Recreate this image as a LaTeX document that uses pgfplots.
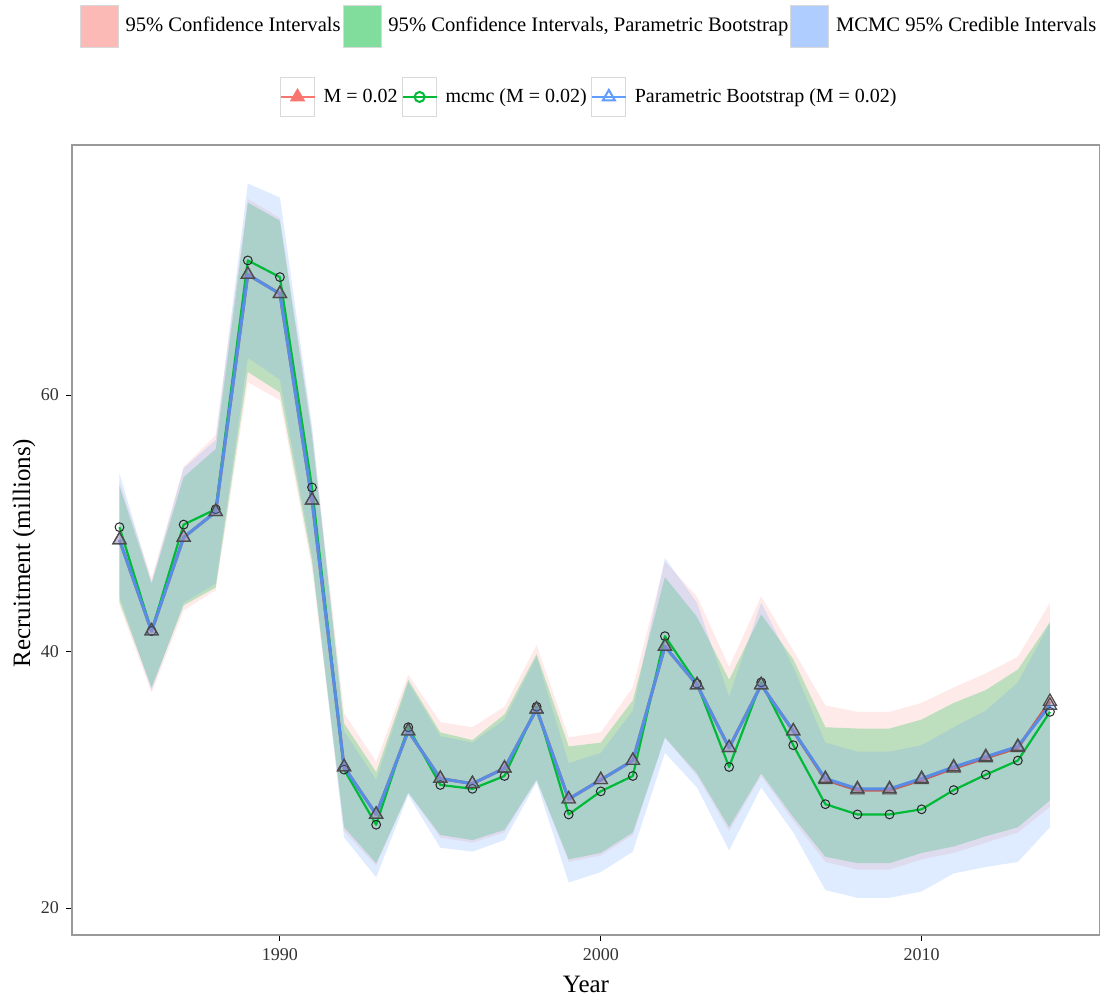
\documentclass[border=0pt]{standalone}
\usepackage{fontspec}
\setmainfont{Liberation Serif}
\usepackage{pgfplots}
\usepackage{pgfplotstable}
\pgfplotsset{compat=1.18}
\usepgfplotslibrary{fillbetween}
\definecolor{pinkc}{HTML}{F8766D}
\definecolor{greenc}{HTML}{00BA38}
\definecolor{bluec}{HTML}{619CFF}
\pgfplotstableread{
year m mc pb cihi pbhi mchi cilo pblo mclo
1985 48.7 49.7 48.7 53.2 52.9 53.9 43.6 43.9 44.3
1986 41.6 41.6 41.6 45.7 45.3 45.4 36.8 37.2 37.0
1987 48.9 49.9 48.9 54.4 53.6 54.3 43.2 43.6 43.8
1988 50.9 51.1 50.9 56.9 55.8 56.5 44.8 45.0 45.3
1989 69.4 70.5 69.4 75.3 75.0 76.5 61.0 61.8 62.9
1990 67.9 69.2 67.9 73.8 73.6 75.4 59.6 60.2 61.2
1991 51.8 52.8 51.8 57.3 56.8 57.6 46.5 47.0 47.4
1992 31.0 30.8 31.0 35.2 34.4 33.8 26.0 26.3 25.5
1993 27.3 26.5 27.3 31.4 30.6 30.0 23.3 23.5 22.4
1994 33.8 34.1 33.8 38.2 37.8 37.6 29.0 29.0 28.8
1995 30.1 29.6 30.1 34.5 33.7 33.4 25.5 25.7 24.7
1996 29.7 29.3 29.7 34.1 33.1 32.9 25.1 25.3 24.4
1997 30.9 30.3 30.9 35.7 35.1 34.7 25.9 26.1 25.3
1998 35.5 35.7 35.5 40.5 39.8 39.6 30.0 30.0 29.8
1999 28.5 27.3 28.5 33.3 32.6 31.3 23.6 23.8 22.0
2000 30.0 29.1 30.0 33.7 32.9 32.1 24.1 24.3 22.8
2001 31.5 30.3 31.5 37.2 36.2 35.4 25.7 25.9 24.4
2002 40.4 41.2 40.4 47.0 45.8 47.3 33.3 33.3 32.1
2003 37.4 37.5 37.4 44.3 42.7 43.8 30.3 30.5 29.4
2004 32.5 31.0 32.5 38.8 37.8 36.5 26.0 26.3 24.5
2005 37.4 37.6 37.4 44.3 42.9 43.8 30.3 30.5 29.4
2006 33.8 32.7 33.8 40.1 39.4 38.8 26.8 27.1 25.9
2007 30.0 28.1 30.1 35.8 34.1 32.9 23.6 24.0 21.4
2008 29.2 27.3 29.3 35.3 34.0 32.2 23.0 23.5 20.8
2009 29.2 27.3 29.3 35.3 34.0 32.2 23.0 23.5 20.8
2010 30.0 27.7 30.1 36.0 34.7 32.7 23.8 24.3 21.3
2011 30.9 29.2 31.0 37.2 36.0 34.1 24.3 24.8 22.7
2012 31.7 30.4 31.8 38.3 37.0 35.4 25.1 25.6 23.2
2013 32.5 31.5 32.6 39.6 38.6 37.6 25.9 26.3 23.6
2014 36.1 35.3 35.8 43.8 42.3 42.2 27.9 28.4 26.3
}\data
\begin{document}
\begin{tikzpicture}
\begin{axis}[
  name=main,
  scale only axis, width=514pt, height=395pt,
  xmin=1983.52, xmax=2015.56, ymin=17.9, ymax=79.5,
  xtick={1990,2000,2010}, ytick={20,40,60},
  /pgf/number format/1000 sep={},
  /pgf/number format/assume math mode=true,
  tick label style={font=\fontsize{9}{10}\selectfont, text=black!80},
  xtick pos=bottom, ytick pos=left, tick align=outside,
  major tick length=3pt,
  tick style={black, line width=0.5pt},
  axis line style={draw=black!40, line width=0.8pt},
  xlabel={Year}, ylabel={Recruitment (millions)},
  label style={font=\fontsize{12.5}{14}\selectfont},
  xlabel style={at={(axis description cs:0.5,0)}, anchor=center, yshift=-24.5pt},
  ylabel style={at={(axis description cs:0,0.4835)}, anchor=center, yshift=24pt},
  clip=false,
]
\addplot[name path=cihi, draw=none, forget plot] table[x=year,y=cihi]{\data};
\addplot[name path=cilo, draw=none, forget plot] table[x=year,y=cilo]{\data};
\addplot[name path=pbhi, draw=none, forget plot] table[x=year,y=pbhi]{\data};
\addplot[name path=pblo, draw=none, forget plot] table[x=year,y=pblo]{\data};
\addplot[name path=mchi, draw=none, forget plot] table[x=year,y=mchi]{\data};
\addplot[name path=mclo, draw=none, forget plot] table[x=year,y=mclo]{\data};
\addplot[fill=pinkc, fill opacity=0.15, draw=none, forget plot] fill between[of=cihi and cilo];
\addplot[fill=greenc, fill opacity=0.25, draw=none, forget plot] fill between[of=pbhi and pblo];
\addplot[fill=bluec, fill opacity=0.2, draw=none, forget plot] fill between[of=mchi and mclo];
% lines
\addplot[pinkc!80!black, line width=1.5pt, line join=round, forget plot] table[x=year,y=m]{\data};
\addplot[greenc, line width=1.1pt, line join=round, forget plot] table[x=year,y=mc]{\data};
\addplot[bluec!90!black, line width=1.5pt, line join=round, forget plot] table[x=year,y=pb]{\data};
% points
\addplot[only marks, mark=triangle*, mark size=3.8pt, mark options={fill=pinkc, fill opacity=0.35, draw=black!70, line width=0.6pt}, forget plot] table[x=year,y=m]{\data};
\addplot[only marks, mark=o, mark size=2.2pt, mark options={draw=black!85, line width=0.5pt}, forget plot] table[x=year,y=mc]{\data};
\addplot[only marks, mark=triangle*, mark size=3.8pt, mark options={fill=bluec, fill opacity=0.3, draw=black!70, line width=0.6pt}, forget plot] table[x=year,y=pb]{\data};
\end{axis}
% legend 1 (intervals)
\begin{axis}[
  scale only axis, width=514pt, height=395pt,
  xmin=0, xmax=1, ymin=0, ymax=1, hide axis,
  legend columns=3,
  legend style={draw=none, fill=none, at={(0.503,1.1506)}, anchor=center,
    font=\fontsize{10.3}{12}\selectfont, inner sep=0pt,
    nodes={inner sep=1pt},
    /tikz/every even column/.append style={column sep=0pt},
    /tikz/every odd column/.append style={column sep=2.5pt}},
  legend image code/.code={\draw[#1, draw=black!15, line width=0.4pt] (0pt,-10.5pt) rectangle (19pt,10.5pt);},
]
\addlegendimage{fill=pinkc!50}
\addlegendentry{95\% Confidence Intervals}
\addlegendimage{fill=greenc!50}
\addlegendentry{95\% Confidence Intervals, Parametric Bootstrap}
\addlegendimage{fill=bluec!50}
\addlegendentry{MCMC 95\% Credible Intervals}
\end{axis}
% legend 2 (lines)
\begin{axis}[
  scale only axis, width=514pt, height=395pt,
  xmin=0, xmax=1, ymin=0, ymax=1, hide axis,
  legend columns=3,
  legend style={draw=none, fill=none, at={(0.503,1.0608)}, anchor=center,
    font=\fontsize{10}{12}\selectfont, inner sep=0pt,
    nodes={inner sep=1pt},
    /tikz/every even column/.append style={column sep=1pt},
    /tikz/every odd column/.append style={column sep=3pt}},
  legend image code/.code={
    \draw[black!15, fill=white, line width=0.5pt] (0pt,-9.75pt) rectangle (17pt,9.75pt);
    \draw[mark repeat=2, mark phase=2, #1] plot coordinates {(0pt,0pt) (8.5pt,0pt) (17pt,0pt)};},
]
\addlegendimage{pinkc, line width=1pt, mark=triangle*, mark size=3.5pt, mark options={fill=pinkc, draw=pinkc}}
\addlegendentry{M = 0.02}
\addlegendimage{greenc, line width=1pt, mark=o, mark size=2.5pt, mark options={draw=greenc}}
\addlegendentry{mcmc (M = 0.02)}
\addlegendimage{bluec, line width=1pt, mark=triangle, mark size=3.5pt, mark options={draw=bluec}}
\addlegendentry{Parametric Bootstrap (M = 0.02)}
\end{axis}
\pgfresetboundingbox
\path (main.south west) ++(-36pt,-31.5pt) rectangle ++(550pt,499pt);
\end{tikzpicture}
\end{document}
